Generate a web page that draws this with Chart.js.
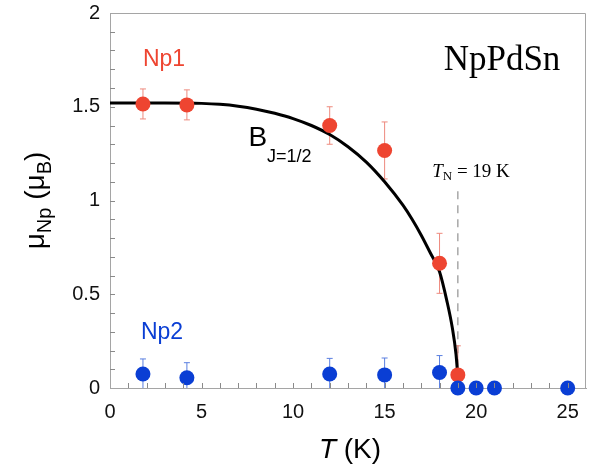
<!DOCTYPE html>
<html>
<head>
<meta charset="utf-8">
<script src="https://cdn.jsdelivr.net/npm/chart.js@4.4.1/dist/chart.umd.min.js"></script>
<style>
    body { margin: 0; background: #fff; }
    #wrap { width: 589px; height: 468px; }
</style>
</head>
<body>
<div id="wrap"><canvas id="momentChart" width="589" height="468"></canvas></div>
<script>
// Np1 site (ordered moment)
const tempNp1 = [1.8, 4.2, 12, 15, 18, 19];
const momentNp1 = [1.515, 1.51, 1.40, 1.267, 0.665, 0.07];
const errNp1 = [0.08, 0.08, 0.10, 0.152, 0.16, 0.155];

// Np2 site
const tempNp2 = [1.8, 4.2, 12, 15, 18, 19, 20, 21, 25];
const momentNp2 = [0.075, 0.055, 0.075, 0.07, 0.083, 0, 0, 0, 0];
const errNp2 = [0.08, 0.08, 0.083, 0.09, 0.09, 0, 0, 0, 0];

// B_{J=1/2} curve
const fitTemp = [0, 3, 5, 6, 7, 8, 9, 10, 11, 12, 13, 14, 15, 16, 16.5, 17, 17.5, 18, 18.4, 18.7, 18.9, 19];
const fitMoment = [1.52, 1.52, 1.518, 1.513, 1.503, 1.487, 1.465, 1.437, 1.40, 1.352, 1.287, 1.205, 1.10, 0.975, 0.90, 0.815, 0.72, 0.62, 0.465, 0.32, 0.18, 0.06];

const xTicks = [0, 5, 10, 15, 20, 25];
const yTicks = [0, 0.5, 1, 1.5, 2];
const TN = 19;
const TN_TOP = 1.05;

const RED = '#EE4531';
const RED_ERR = '#EE8A7E';
const BLUE = '#0A3ED4';
const BLUE_ERR = '#5A7FE0';
const FRAME = '#A5A5A5';
const SANS = '"Liberation Sans", Arial, sans-serif';
const SERIF = '"Liberation Serif", "Times New Roman", serif';

function drawRich(ctx, parts, x, y) {
    // parts: [text, font, dy]; centred on x, baseline y
    let total = 0;
    parts.forEach(p => { ctx.font = p[1]; total += ctx.measureText(p[0]).width; });
    let cx = x - total / 2;
    parts.forEach(p => {
        ctx.font = p[1];
        ctx.fillText(p[0], cx, y + (p[2] || 0));
        cx += ctx.measureText(p[0]).width;
    });
}

function noPad(scale) {
    scale.paddingTop = 0;
    scale.paddingBottom = 0;
    scale.paddingLeft = 0;
    scale.paddingRight = 0;
}

const decorations = {
    id: 'decorations',
    beforeDatasetsDraw(chart) {
        const ctx = chart.ctx;
        const xs = chart.scales.x, ys = chart.scales.y;
        const area = chart.chartArea;
        ctx.save();

        // dashed T_N line
        ctx.strokeStyle = '#9A9A9A';
        ctx.lineWidth = 1.3;
        ctx.setLineDash([8, 6]);
        ctx.beginPath();
        ctx.moveTo(xs.getPixelForValue(TN), ys.getPixelForValue(TN_TOP));
        ctx.lineTo(xs.getPixelForValue(TN), ys.getPixelForValue(0));
        ctx.stroke();
        ctx.setLineDash([]);

        // error bars
        ctx.beginPath();
        ctx.rect(area.left, area.top, area.right - area.left, area.bottom - area.top);
        ctx.clip();
        const bars = (tx, my, err, color) => {
            ctx.strokeStyle = color;
            ctx.lineWidth = 1;
            tx.forEach((t, i) => {
                if (!err[i]) return;
                const px = xs.getPixelForValue(t);
                const top = ys.getPixelForValue(my[i] + err[i]);
                const bot = ys.getPixelForValue(my[i] - err[i]);
                ctx.beginPath();
                ctx.moveTo(px, top); ctx.lineTo(px, bot);
                ctx.moveTo(px - 3, top); ctx.lineTo(px + 3, top);
                ctx.moveTo(px - 3, bot); ctx.lineTo(px + 3, bot);
                ctx.stroke();
            });
        };
        bars(tempNp1, momentNp1, errNp1, RED_ERR);
        bars(tempNp2, momentNp2, errNp2, BLUE_ERR);
        ctx.restore();
    },
    afterDraw(chart) {
        const ctx = chart.ctx;
        const xs = chart.scales.x, ys = chart.scales.y;
        const area = chart.chartArea;
        ctx.save();

        // frame top/right
        ctx.strokeStyle = FRAME;
        ctx.lineWidth = 1;
        ctx.beginPath();
        ctx.moveTo(area.left, area.top + 0.5);
        ctx.lineTo(area.right - 0.5, area.top + 0.5);
        ctx.lineTo(area.right - 0.5, area.bottom);
        ctx.stroke();

        // inward ticks
        ctx.strokeStyle = '#8A8A8A';
        ctx.beginPath();
        for (let v = 1; v < 26; v++) {
            const px = Math.round(xs.getPixelForValue(v)) + 0.5;
            ctx.moveTo(px, area.bottom);
            ctx.lineTo(px, area.bottom - 5);
        }
        for (let k = 1; k < 20; k++) {
            const py = Math.round(ys.getPixelForValue(k / 10)) + 0.5;
            ctx.moveTo(area.left, py);
            ctx.lineTo(area.left + 5, py);
        }
        ctx.stroke();

        ctx.textAlign = 'left';
        ctx.textBaseline = 'alphabetic';

        // labels
        ctx.fillStyle = RED;
        drawRich(ctx, [['Np1', '23px ' + SANS]], 164, 66);
        ctx.fillStyle = BLUE;
        drawRich(ctx, [['Np2', '23px ' + SANS]], 162, 339);

        ctx.fillStyle = '#000';
        drawRich(ctx, [['NpPdSn', '35px ' + SERIF]], 502, 70);
        drawRich(ctx, [['B', '28px ' + SANS], ['J=1/2', '18px ' + SANS, 16]], 280, 146);
        drawRich(ctx, [['T', 'italic 19px ' + SERIF], ['N', '13px ' + SERIF, 3], [' = 19 K', '19px ' + SERIF]], 471, 177);

        // axis titles
        drawRich(ctx, [['T', 'italic 28px ' + SANS], [' (K)', '28px ' + SANS]], 350, 458);
        ctx.translate(44, (area.top + area.bottom) / 2);
        ctx.rotate(-Math.PI / 2);
        drawRich(ctx, [['\u03bc', '28px ' + SANS], ['Np', '20px ' + SANS, 7], [' (\u03bc', '28px ' + SANS], ['B', '20px ' + SANS, 7], [')', '28px ' + SANS]], 0, 0);
        ctx.restore();
    }
};

const ctx = document.getElementById('momentChart').getContext('2d');
new Chart(ctx, {
    data: {
        datasets: [{
            type: 'line',
            label: 'B J=1/2',
            data: fitTemp.map((t, i) => ({ x: t, y: fitMoment[i] })),
            borderColor: '#000',
            borderWidth: 3,
            pointRadius: 0,
            cubicInterpolationMode: 'monotone',
            fill: false,
            order: 3
        }, {
            type: 'scatter',
            label: 'Np1',
            data: tempNp1.map((t, i) => ({ x: t, y: momentNp1[i] })),
            backgroundColor: RED,
            borderWidth: 0,
            pointRadius: 7.5,
            clip: false,
            order: 2
        }, {
            type: 'scatter',
            label: 'Np2',
            data: tempNp2.map((t, i) => ({ x: t, y: momentNp2[i] })),
            backgroundColor: BLUE,
            borderWidth: 0,
            pointRadius: 7.5,
            clip: false,
            order: 1
        }]
    },
    options: {
        responsive: false,
        devicePixelRatio: 1,
        animation: false,
        layout: { autoPadding: false, padding: { top: 13, right: 3, left: 0, bottom: 0 } },
        plugins: {
            legend: { display: false },
            tooltip: { enabled: false }
        },
        scales: {
            x: {
                type: 'linear',
                min: 0,
                max: 26,
                afterFit: scale => { scale.height = 80; noPad(scale); },
                afterBuildTicks: scale => { scale.ticks = xTicks.map(v => ({ value: v })); },
                grid: { display: false, drawTicks: false },
                border: { display: true, color: FRAME, width: 1 },
                ticks: {
                    padding: 12,
                    color: '#111',
                    font: { family: SANS, size: 20 },
                    callback: v => String(v)
                }
            },
            y: {
                type: 'linear',
                min: 0,
                max: 2,
                afterFit: scale => { scale.width = 110; noPad(scale); },
                afterBuildTicks: scale => { scale.ticks = yTicks.map(v => ({ value: v })); },
                grid: { display: false, drawTicks: false },
                border: { display: true, color: FRAME, width: 1 },
                ticks: {
                    padding: 10,
                    color: '#111',
                    font: { family: SANS, size: 20 },
                    callback: v => String(v)
                }
            }
        }
    },
    plugins: [decorations]
});
</script>
</body>
</html>
